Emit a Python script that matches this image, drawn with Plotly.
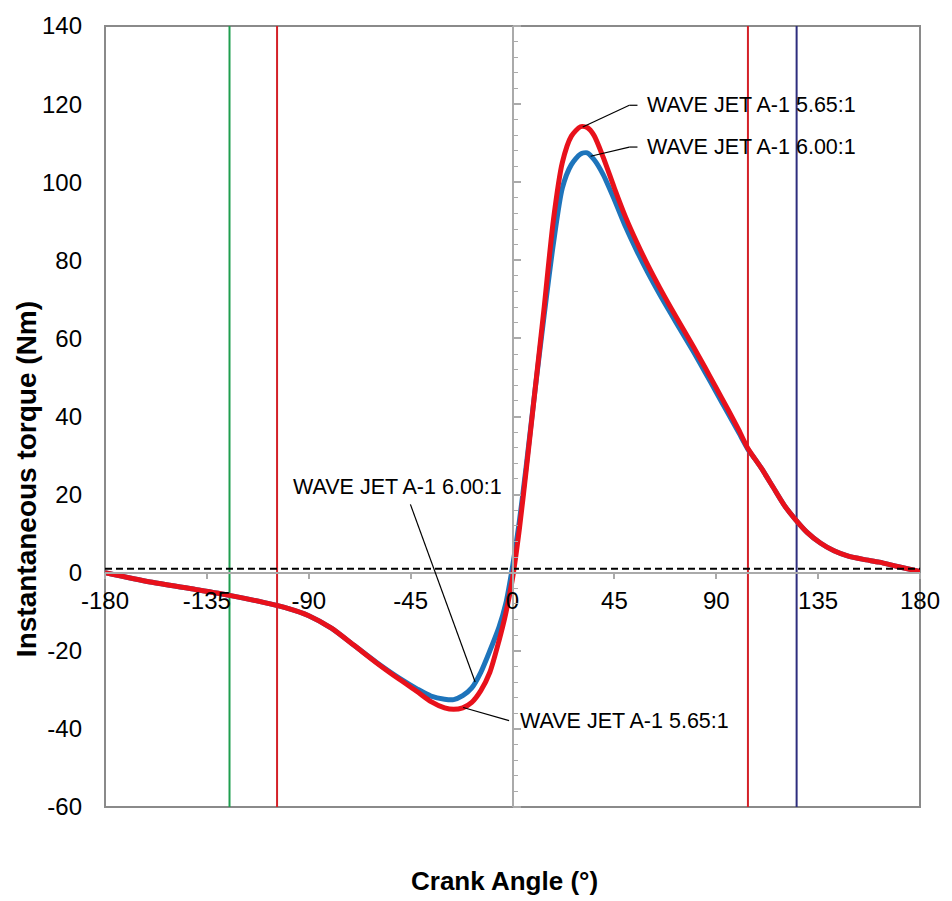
import numpy as np
import plotly.graph_objects as go

# ---- data ----
angle = [-180, -160, -140, -125, -110, -100, -90, -80, -70, -60, -50, -42, -36, -30, -26,
         -22, -18, -14, -10, -6, -3, 0, 3, 6, 10, 14, 18, 22, 26, 30, 33, 36, 40, 45,
         50, 55, 60, 65, 70, 75, 80, 85, 90, 95, 100, 104, 107, 110, 115, 120, 125,
         130, 136, 142, 148, 155, 162, 170, 180]

torque_565 = [0.0, -2.4, -4.3, -5.8, -7.6, -9.0, -11.0, -14.2, -18.6, -23.1, -27.3, -30.5,
              -33.0, -34.6, -35.0, -34.6, -33.2, -30.2, -25.5, -17.5, -10.5, -1.5, 11.0,
              26.0, 47.0, 68.0, 90.0, 105.0, 111.8, 114.2, 114.0, 112.0, 106.5, 98.5,
              91.0, 84.5, 78.5, 73.0, 67.8, 62.8, 57.8, 52.6, 47.3, 42.0, 36.5, 31.8,
              29.2, 26.7, 22.0, 17.3, 13.6, 10.4, 7.6, 5.6, 4.3, 3.4, 2.7, 1.6, 0.3]

torque_600 = [0.0, -2.4, -4.3, -5.8, -7.6, -9.0, -11.0, -14.2, -18.6, -23.0, -27.0, -29.8,
              -31.6, -32.4, -32.5, -31.5, -29.5, -25.5, -20.0, -14.0, -8.0, 1.5, 13.0,
              27.0, 47.0, 66.0, 84.0, 98.5, 104.5, 107.2, 107.5, 105.8, 102.0, 95.5,
              88.5, 82.3, 76.6, 71.3, 66.3, 61.4, 56.5, 51.4, 46.2, 41.0, 35.8, 31.6,
              29.2, 26.7, 22.0, 17.3, 13.6, 10.4, 7.6, 5.6, 4.3, 3.4, 2.7, 1.6, 0.3]

x_ticks = [-180, -135, -90, -45, 0, 45, 90, 135, 180]
y_ticks = [-60, -40, -20, 0, 20, 40, 60, 80, 100, 120, 140]

# vertical marker lines (crank angles) and their colours
marker_angles = [-125, -104, 104, 125.5]
marker_colors = ["#1f9e4f", "#d42027", "#d42027", "#2e2e7e"]

ref_level = 1.0  # dashed reference line

label_565 = "WAVE JET A-1 5.65:1"
label_600 = "WAVE JET A-1 6.00:1"

RED = "#e8111b"
BLUE = "#1e74bb"
FONT = "Liberation Sans, Arial, sans-serif"

fig = go.Figure()

fig.add_trace(go.Scatter(x=angle, y=torque_600, mode="lines",
                         line=dict(color=BLUE, width=5, shape="spline", smoothing=0.7),
                         name=label_600, showlegend=False))
fig.add_trace(go.Scatter(x=angle, y=torque_565, mode="lines",
                         line=dict(color=RED, width=5, shape="spline", smoothing=0.7),
                         name=label_565, showlegend=False))
fig.add_trace(go.Scatter(x=[x_ticks[0], x_ticks[-1]], y=[ref_level, ref_level], mode="lines", yaxis="y2",
                         line=dict(color="black", width=2, dash="7px,4px"), showlegend=False, hoverinfo="skip"))

shapes = []
# frame
shapes.append(dict(type="rect", xref="paper", yref="paper", x0=0, x1=1, y0=0, y1=1,
                   line=dict(color="#8a8a8a", width=2), layer="below"))
for a, c in zip(marker_angles, marker_colors):
    shapes.append(dict(type="line", xref="x", yref="paper", x0=a, x1=a, y0=0, y1=1,
                       line=dict(color=c, width=2), layer="below"))

# leader lines
a_arr = np.array(angle, dtype=float)
r_arr = np.array(torque_565, dtype=float)
b_arr = np.array(torque_600, dtype=float)
ir = int(np.argmax(r_arr))
pr = a_arr[ir] + 1.0
peak_r = (pr, float(np.interp(pr, a_arr, r_arr)))
pb = 34.5
peak_b = (pb, float(np.interp(pb, a_arr, b_arr)))

def seg(x0, y0, x1, y1):
    return dict(type="line", xref="x", yref="y", x0=x0, y0=y0, x1=x1, y1=y1,
                line=dict(color="black", width=1.2))

top1_y, top2_y = 119.7, 109.0
shapes += [seg(peak_r[0], peak_r[1], 51.6, top1_y), seg(51.6, top1_y, 55.2, top1_y),
           seg(peak_b[0], peak_b[1], 51.6, top2_y), seg(51.6, top2_y, 55.2, top2_y)]
lb_x = -16.5
shapes.append(seg(-45.1, 17.5, lb_x, float(np.interp(lb_x, a_arr, b_arr))))
lr_x = -21.8
shapes.append(seg(lr_x, float(np.interp(lr_x, a_arr, r_arr)), -1.5, -37.9))

ann_font = dict(family=FONT, size=21.5, color="black")
annotations = [
    dict(x=58.7, y=top1_y, xref="x", yref="y", text=label_565, showarrow=False, xanchor="left", yanchor="middle", font=ann_font),
    dict(x=58.7, y=top2_y, xref="x", yref="y", text=label_600, showarrow=False, xanchor="left", yanchor="middle", font=ann_font),
    dict(x=-97.8, y=21.9, xref="x", yref="y", text=label_600, showarrow=False, xanchor="left", yanchor="middle", font=ann_font),
    dict(x=2.4, y=-37.9, xref="x", yref="y", text=label_565, showarrow=False, xanchor="left", yanchor="middle", font=ann_font),
    dict(x=0.4896, y=-0.0953, xref="paper", yref="paper", text="<b>Crank Angle (°)</b>", showarrow=False,
         xanchor="center", yanchor="middle", font=dict(family=FONT, size=26, color="black")),
    dict(x=-0.0955, y=0.42, xref="paper", yref="paper", text="<b>Instantaneous torque (Nm)</b>", showarrow=False,
         textangle=-90, xanchor="center", yanchor="middle", font=dict(family=FONT, size=28, color="black")),
]

tick_font = dict(family=FONT, size=24, color="black")

fig.update_layout(
    width=952, height=901,
    margin=dict(l=105, r=28, t=20, b=94),
    paper_bgcolor="white", plot_bgcolor="white",
    shapes=shapes, annotations=annotations,
    xaxis=dict(range=[-180, 180], tickvals=x_ticks, ticktext=[str(v) for v in x_ticks],
               anchor="free", position=0.3, showline=True, linecolor="#aaaaaa", linewidth=1.5,
               ticks="outside", ticklen=6, tickcolor="#aaaaaa", tickwidth=1.5, showgrid=False, zeroline=False,
               tickfont=tick_font, ticklabelstandoff=1),
    yaxis=dict(range=[-60, 140], tickvals=y_ticks, ticktext=[str(v) for v in y_ticks],
               showline=False, ticks="", showgrid=False, zeroline=False, tickfont=tick_font,
               ticklabelstandoff=22),
    yaxis2=dict(range=[-60, 140], overlaying="y", anchor="free", position=0.5, side="right",
                showline=True, linecolor="#aaaaaa", linewidth=1.5, ticks="outside", ticklen=8,
                tickcolor="#aaaaaa", tickwidth=1.5, dtick=20, tick0=0, showticklabels=False,
                showgrid=False, zeroline=False,
                minor=dict(ticks="outside", dtick=4, tick0=0, ticklen=5, tickcolor="#aaaaaa", tickwidth=1.2, showgrid=False)),
)

fig.write_html("out.html")
